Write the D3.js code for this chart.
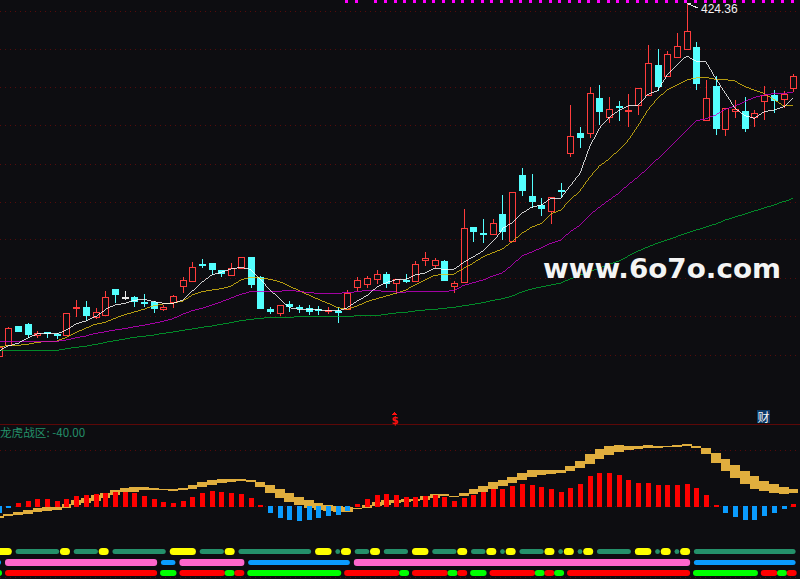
<!DOCTYPE html>
<html><head><meta charset="utf-8">
<script src="https://cdn.jsdelivr.net/npm/d3@7/dist/d3.min.js"></script>
<style>html,body{margin:0;padding:0;background:#0d0d11;overflow:hidden}svg{display:block}</style>
</head><body><svg id="c" width="800" height="579"></svg>
<script>
// session index runs from -1 to 81
const opens=[71.3,82,101,103,92,94.7,93.3,92,118.7,120,110,112.3,138,130.3,130,125.3,125.3,118.3,125,141.3,146.3,163,164,156.7,152.3,159,170,149.7,118,114.3,123,119.7,118.7,118,116,116.3,117.7,140,143.3,148.3,153,143.7,147.5,146.3,167.3,162.3,166,141,145.3,200,194.3,193.3,213,186.3,252,231,222,216.3,237,274.3,294,294.3,329,310.3,321.3,316.7,321.7,332.3,362,351.3,369.7,377.7,380,306.7,341,298.3,315.7,316,310.3,325.7,332,327.7,338.7];
const closes=[80.3,98.7,95.3,92,93.7,93,91,113.7,119.7,111,114.7,129.7,132,130.3,125.3,124.7,118,120.3,130.7,146.7,159.7,161,157,153.3,158.7,169.7,142.3,118,115.3,121.7,120.3,118.3,115.3,116.7,117.3,115.7,134,146.7,148.7,153,143.3,147.7,147,162.7,168.7,166.7,146.3,143.7,198.7,195,193.3,203.7,195.3,234.7,236,225.3,218.3,229.7,235.3,290.7,289,333.7,315.3,317.7,320.7,317.3,338.7,363.7,340.3,372.7,380.7,395.7,343.3,328.7,298.3,318.7,318,298,313.7,332,326.3,333,350.7];
const highs=[80.3,99.7,101,104,96.3,94.7,93.7,113.7,127,126,118.7,136,138,136,131,133,126,122.3,132,150,165,168,164,156.7,164,169.7,170,151,119.7,121.7,126,122,122,121,120,119.7,137,149.7,151.3,157,155,147.7,153,166,175,168.7,167,146,218,200,208,207.7,232,234.7,258.7,253,229,229.7,244,322,299.7,340,342,330,326.3,332.7,338.7,382,377.7,376,394.3,424.36,385,347,351,318.7,327,330,317,341,337,335.7,353];
const lows=[71.3,82,95.3,90.3,89.7,90.3,89.3,92,111,107,109.3,112.3,125,128,121.3,121,115,117,120.3,135,146.3,160.3,153,151,152,159,140,118,113.7,112.3,116,115.3,113,113,114.3,105.3,117.7,137,140.3,143.7,140.3,134.3,145.3,146.3,162,159.7,146.3,135.3,145.3,186.3,185.3,193.3,188,186.3,232,220.3,212,204.3,229.7,271.3,280,290.3,303,305.3,307,301,313,332.3,337,351.3,369.7,377.7,338,306.7,293.3,292.3,310,296,301.3,307.7,315.3,320.3,336.3];
const ma5=[76,81,83.7,88.7,93.3,94,93,97,103.3,106,111,117.7,122,123.7,126.7,127.7,125.3,123.7,123.7,127,136,144.7,152,154.7,158,159.7,157.7,148,137,128.7,119.3,117.7,117.7,117.3,116.3,116,119.3,126,131.3,139.7,144.3,147.3,147.7,152,154,158.7,157.7,157.7,164.7,170.3,176,186,198.5,204.3,213.7,219.7,222,228.7,228.7,241.3,253.7,280.3,298.7,309.7,316.3,321,321.7,332.7,336.3,352,362,371,366,365,348.7,333.7,318.7,311.3,308.7,315.3,317,320.3,329.7];
const ma10=[80.5,81.3,81.7,82.7,84.7,85.5,86,89.7,94.7,98.7,103,104.7,108.7,112.3,115,117.7,121.3,123,123.7,126,132,135.3,137,138.3,141,147,149.7,149,147.7,145.3,141,136.3,132,127.7,123.7,119.3,117.7,121,125.3,128.3,131,133.7,137,142,147,151.7,152.7,153,158.7,164,170.3,174.3,178,185.3,193.7,199.7,203.7,213,217,227,236.3,249.7,261,268,277,287,301.3,317,328.7,337,341.7,347,349,349.7,347.7,347.3,346,340.3,337,333.7,327.7,321,321.7];
const ma20=[85.7,85.7,85.7,85.7,85.7,85.7,85.7,87,89.3,91,93.7,95.3,97,98.3,100.3,101.7,103.7,105.7,108.3,113,116.3,118.7,122,125.3,129,132.7,135.3,136,135.7,135.7,136.7,135.7,134.3,133.7,133.7,133.7,134.3,135.3,136.7,136.3,135.7,135,135,135.7,135.7,135.7,135.7,136.3,141.7,144.3,147,151,154.3,162,171,175,179,183.7,187,195.3,202,212,219.7,227,233.7,242.7,250,259,268,277,287,297,306,308.3,312,317.7,321,325.3,329.7,332,333.3,333.7,335];
const ma60=[76.7,76.7,76.7,76.7,76.7,76.7,76.7,78.3,79.7,80.7,82.7,84.7,86.3,88,89.7,90.7,92,93.7,95,96.7,98,99.7,101,102.7,104.3,106.3,107.7,108.5,109.7,109.7,109.7,110.3,110.3,110.3,110.3,110.3,110.3,111.3,111.3,111.3,112.7,114,114.7,116,117,117.7,118.7,119.7,121.3,122.7,124.3,126.7,128.3,131,135,138,140,142,144,148,152,155.5,159,162.5,166,171,176,180,184,187,190.5,194,197,200,203,207,210,213,216,219,222,225.5,229];
const histogram=[-7,-1.7,4,6,8,8,6,8,11,12,13,14,15,15,14,11,8,5,4,6,10,14,16,15,14,13,9,2,-7,-12,-14,-15,-14,-12,-10,-9,-5,3,8,12,13,12,10,10,11,12,10,6,9,12,15,18,18,21,23,22,20,18,15,19,23,31,34,34,32,27,24,24,22,22,22,23,19,12,2,-7,-11,-14,-14,-10,-7,-3,3];
const bandHigh=[-9.2,-7.8,-5.2,-3.8,-1.2,-0.2,-0.2,2.2,6.5,8.8,11.5,13.5,16.8,18.2,19.5,19.5,18.5,17.5,17.2,18.5,21.8,24.5,26.5,27.5,27.5,27.5,26.5,24.5,21.5,17.5,13.5,9.5,6.5,3.5,1.5,0.5,-0.5,-1.5,1.5,4.5,6.5,6.5,7.5,7.5,10.5,12.5,12.5,10.5,13.5,17.5,20.5,24.5,26.5,29.5,33.5,36.5,36.5,36.5,36.5,40.5,45.5,52.5,57.5,60.5,61.5,60.5,60.5,61.5,60.5,60.5,61.5,62.5,60.5,58.5,53.5,47.5,41.5,35.5,30.5,25.5,22.5,19.5,17.5];
const bandLow=[-11.2,-9.2,-8.5,-7.2,-5.2,-4.5,-3.5,-1.2,1.5,3.2,5.5,8.8,11.5,14.2,14.8,16.2,16.8,16.8,15.5,16.8,17.5,19.8,21.5,23.8,24.8,25.5,24.5,19.8,13.8,8.8,4.8,1.5,-1.2,-3.5,-4.5,-5.2,-5.5,-2.5,-1.5,0.5,1.5,3.5,4.5,5.5,6.5,8.5,10.5,9.5,10.5,12.5,14.5,17.5,20.5,23.5,26.5,29.5,31.5,32.5,33.5,35.5,38.5,42.5,47.5,51.5,54.5,56.5,57.5,58.5,58.5,59.5,59.5,60.5,58.5,52.5,43.5,35.5,28.5,22.5,17.5,15.5,13.5,12.5,13.5];
const stripOne=[[-1,0,'yellow'],[1,5,'teal'],[6,6,'yellow'],[7,9,'teal'],[10,10,'yellow'],[11,16,'teal'],[17,19,'yellow'],[20,22,'teal'],[23,23,'yellow'],[24,31,'teal'],[32,33,'yellow'],[34,34,'teal'],[35,35,'yellow'],[36,37,'teal'],[38,38,'yellow'],[39,41,'teal'],[42,43,'yellow'],[44,46,'teal'],[47,47,'yellow'],[48,49,'teal'],[50,50,'yellow'],[51,51,'teal'],[52,52,'yellow'],[53,55,'teal'],[56,56,'yellow'],[57,57,'teal'],[58,58,'yellow'],[59,59,'teal'],[60,60,'yellow'],[61,64,'teal'],[65,66,'yellow'],[67,67,'teal'],[68,68,'yellow'],[69,69,'teal'],[70,70,'yellow'],[71,81,'teal']];
const stripTwo=[[-1,-1,'blue'],[0,15,'pink'],[16,17,'blue'],[18,24,'pink'],[25,35,'blue'],[36,70,'pink'],[71,81,'blue']];
const stripThree=[[-1,-1,'green'],[0,15,'red'],[16,17,'green'],[18,22,'red'],[23,23,'green'],[24,24,'red'],[25,34,'green'],[35,40,'red'],[41,41,'green'],[42,45,'red'],[46,46,'green'],[47,47,'red'],[48,49,'green'],[50,54,'red'],[55,55,'green'],[56,56,'red'],[57,57,'green'],[58,70,'red'],[71,77,'green'],[78,79,'red'],[80,80,'green'],[81,81,'red']];
const priceGrid=[415.3,377.5,339.5,301,263,225,187,149,110.3,72];
const lowerGrid=[56.5,0.5,-70.5];
const events=[[40,'$'],[78,'财']];
const topSignals=[35,36].concat(d3.range(38,82));
const indicatorName='龙虎战区: -40.00';
const highLabel='424.36';
const watermark='www.6o7o.com';

const svg=d3.select('#c');
const col={bg:'#0d0d11',up:'#ff3c3c',down:'#54ffff',doji:'#e8e8e8',teal:'#24906a',yellow:'#ffff00',pink:'#ff66cc',blue:'#0a9cff',red:'#ff0000',green:'#00ff00',band:'#e0ae3e'};
svg.append('rect').attr('width',800).attr('height',579).attr('fill',col.bg);
const x=d3.scaleLinear().domain([-1,81]).range([8.3-9.69,8.3+9.69*81]);
const yP=d3.scaleLinear().domain([0,424.36]).range([427,2.64]);
const yL=d3.scaleLinear().domain([-70,100]).range([576.5,406.5]);
const px=k=>Math.round(x(k));
const sn=v=>Math.floor(v)+0.5;
const root=svg.append('g').attr('shape-rendering','crispEdges');

root.append('g').selectAll('line').data(priceGrid).join('line')
 .attr('x1',0).attr('x2',800).attr('y1',d=>sn(yP(d))).attr('y2',d=>sn(yP(d)))
 .attr('stroke','#560b0b').attr('stroke-dasharray','1,4');
root.append('g').selectAll('line').data(lowerGrid).join('line')
 .attr('x1',0).attr('x2',800).attr('y1',d=>sn(yL(d))).attr('y2',d=>sn(yL(d)))
 .attr('stroke','#560b0b').attr('stroke-dasharray','1,4');
root.append('line').attr('x1',0).attr('x2',800).attr('y1',424.5).attr('y2',424.5).attr('stroke','#5c0808');

// top magenta signal squares
root.append('g').selectAll('rect').data(topSignals).join('rect')
 .attr('x',k=>Math.round(x(k)-2.4)).attr('y',0).attr('width',3).attr('height',3).attr('fill','#ff00ff');

// candles
const idx=d3.range(-1,82);
const cand=root.append('g');
idx.forEach((k,i)=>{
  const o=opens[i],c=closes[i],h=highs[i],l=lows[i],xx=px(k);
  const color=o===c?col.doji:(c>o?col.up:col.down);
  const top=Math.round(yP(Math.max(o,c))),bot=Math.round(yP(Math.min(o,c)));
  const ht=Math.round(yP(h)),lt=Math.round(yP(l));
  if(ht<top) cand.append('rect').attr('x',xx).attr('y',ht).attr('width',1).attr('height',top-ht).attr('fill',color);
  if(lt>bot) cand.append('rect').attr('x',xx).attr('y',bot).attr('width',1).attr('height',lt-bot+1).attr('fill',color);
  if(c>o) cand.append('rect').attr('x',xx-2.5).attr('y',top+0.5).attr('width',6).attr('height',Math.max(bot-top,1)).attr('fill',col.bg).attr('stroke',color);
  else cand.append('rect').attr('x',xx-3).attr('y',top).attr('width',7).attr('height',Math.max(bot-top,1)+(bot-top<2?1:0)).attr('fill',color);
});

// moving averages
const line=d3.line().x((d,i)=>x(i-1)).y(d=>yP(d));
[[ma60,'#00aa30'],[ma10,'#e0c010'],[ma20,'#c800c8'],[ma5,'#ffffff']].forEach(([s,c])=>{
  root.append('path').datum(s).attr('d',line).attr('fill','none').attr('stroke',c).attr('stroke-width',0.8);
});

// high flag
const hx=px(70);
root.append('path').attr('d',`M${hx},3.5H${hx+4}M${hx},3.5L${hx+11},8`).attr('fill','none').attr('stroke','#e8e8e8');
svg.append('text').attr('x',701).attr('y',13).attr('fill','#f0f0f0').attr('font-family','Liberation Sans').attr('font-size',12).text(highLabel);

// watermark
svg.append('text').attr('x',543).attr('y',277.5).attr('textLength',238).attr('lengthAdjust','spacingAndGlyphs')
 .attr('fill','#f4f4f4').attr('font-family','DejaVu Sans').attr('font-weight','bold').attr('font-size',27).text(watermark);

// indicator label
svg.append('text').attr('x',0).attr('y',437).attr('fill','#24906a').attr('font-family','Noto Sans CJK SC,Liberation Sans').attr('font-size',11.6).text(indicatorName);

// events
events.forEach(([k,t])=>{
  const xx=x(k);
  if(t==='$'){
    root.append('path').attr('d',`M${xx-4},415L${xx-1},412L${xx+2},415Z`).attr('fill','#ff1010');
    svg.append('text').attr('x',xx-1).attr('y',423.5).attr('text-anchor','middle').attr('fill','#ff1010').attr('font-family','DejaVu Sans').attr('font-weight','bold').attr('font-size',10).text(t);
  } else {
    root.append('rect').attr('x',xx-7).attr('y',410).attr('width',13).attr('height',13).attr('fill','#0a3a68');
    svg.append('text').attr('x',xx-0.5).attr('y',421.5).attr('text-anchor','middle').attr('fill','#f4f4f4').attr('font-family','Noto Sans CJK SC').attr('font-size',12).text(t);
  }
});

// lower band and histogram
root.append('g').selectAll('rect').data(idx).join('rect')
 .attr('x',k=>x(k)-4.85).attr('width',9.9)
 .attr('y',(k,i)=>yL(bandHigh[i])).attr('height',(k,i)=>Math.max(yL(bandLow[i])-yL(bandHigh[i]),1))
 .attr('fill',col.band);
root.append('g').selectAll('rect').data(idx).join('rect')
 .attr('x',k=>px(k)-2).attr('width',5)
 .attr('y',(k,i)=>histogram[i]>0?yL(histogram[i]):yL(0)-0.5)
 .attr('height',(k,i)=>histogram[i]>0?yL(0)-yL(histogram[i]):yL(histogram[i])-yL(0))
 .attr('fill',(k,i)=>histogram[i]>0?col.red:col.blue);

// status strips
const stripGeom={teal:[549,5,2.4,2.5],yellow:[548,7,3.5,3.5],pink:[559,7,3.5,3],blue:[560,5,2.4,2.5],red:[570,6,3.5,3],green:[570,6,3.5,3]};
[stripOne,stripTwo,stripThree].forEach(st=>{
  st.forEach(([a,b,c])=>{
    const g=stripGeom[c];
    const right=x(b)+g[2];
    const left=g[2]>3?Math.min(x(a)-3.3,right-10):x(a)-g[2];
    svg.append('rect').attr('x',left).attr('y',g[0]).attr('width',right-left).attr('height',g[1]).attr('rx',g[3]).attr('fill',col[c]);
  });
});
</script></body></html>
